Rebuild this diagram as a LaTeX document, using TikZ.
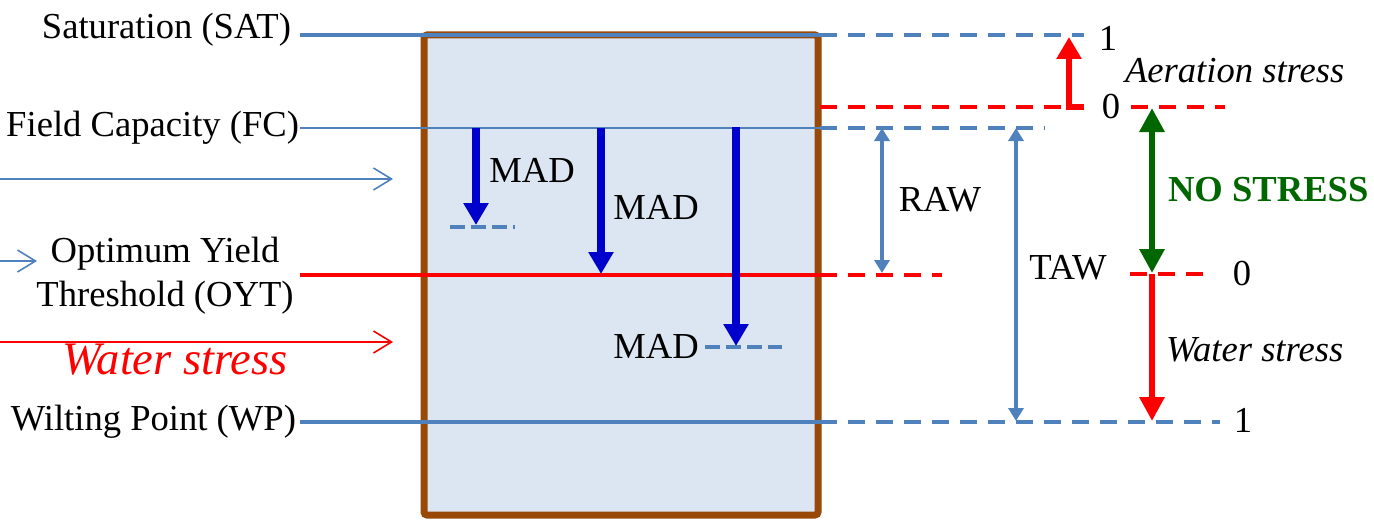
\documentclass[tikz,border=0pt]{standalone}
\usepackage{fontspec}
\setmainfont{Liberation Serif}
\usetikzlibrary{arrows.meta}
\definecolor{lblue}{HTML}{4F81BD}
\definecolor{boxfill}{HTML}{DCE6F2}
\definecolor{soil}{HTML}{984807}
\definecolor{madblue}{HTML}{0000CC}
\definecolor{dgreen}{HTML}{006600}
\definecolor{sred}{HTML}{FF0000}
\begin{document}
\begin{tikzpicture}[x=0.5pt,y=-0.5pt,
  font=\fontsize{18.3}{22}\selectfont,
  txt/.style={inner sep=0pt, outer sep=0pt},
  dsh/.style={dash pattern=on 8.5pt off 5.5pt},
  thickblue/.style={lblue, line width=2pt},
  thinblue/.style={lblue, line width=1pt},
  thickred/.style={sred, line width=2pt},
  madarrow/.style={madblue, line width=3.8pt, -{Triangle[width=12pt,length=11pt]}},
  dimarrow/.style={lblue, line width=2pt, {Triangle[width=7.5pt,length=6.5pt]}-{Triangle[width=7.5pt,length=6.5pt]}},
  openarrow/.style={line width=0.8pt, -{Straight Barb[length=9pt,width=11pt]}},
  bigarrow/.style={line width=3pt, -{Triangle[width=12pt,length=12pt]}}
]
\useasboundingbox (0,0) rectangle (1374,519);

% soil box
\draw[soil, fill=boxfill, line width=3.5pt, rounded corners=1.5pt] (424,35) rectangle (818,515);

% named points
\coordinate (satL) at (300,35);  \coordinate (satB) at (820,35);  \coordinate (satR) at (1084,35);
\coordinate (aerL) at (820,107); \coordinate (aerR) at (1084,107);
\coordinate (fcL) at (300,128);  \coordinate (fcB) at (820,128);  \coordinate (fcR) at (1045,128);
\coordinate (oyL) at (300,275);  \coordinate (oyB) at (820,275);  \coordinate (oyR) at (942,275);
\coordinate (wpL) at (300,422);  \coordinate (wpB) at (820,422);  \coordinate (wpR) at (1220,422);
\coordinate (z1L) at (1131,107); \coordinate (z1R) at (1225,107);
\coordinate (z2L) at (1130,274); \coordinate (z2R) at (1210,274);

% level lines
\draw[thickblue] (satL) -- (satB);
\draw[thickblue, dsh] (satB) -- (satR);
\draw[thickred, dsh] (aerL) -- (aerR);
\draw[thinblue] (fcL) -- (fcB);
\draw[thickblue, dsh] (fcB) -- (fcR);
\draw[thickred] (oyL) -- (oyB);
\draw[thickred, dsh] (oyB) -- (oyR);
\draw[thickblue] (wpL) -- (wpB);
\draw[thickblue, dsh] (wpB) -- (wpR);
\draw[thickred, dsh] (z1L) -- (z1R);
\draw[thickred, dsh] (z2L) -- (z2R);

% MAD arrows
\coordinate (m1a) at (476,128); \coordinate (m1b) at (476,225);
\coordinate (m2a) at (601,128); \coordinate (m2b) at (601,274);
\coordinate (m3a) at (736,127); \coordinate (m3b) at (736,346);
\coordinate (d1L) at (450,227); \coordinate (d1R) at (515,227);
\coordinate (d3L) at (705,347); \coordinate (d3R) at (782,347);
\draw[thickblue, dash pattern=on 7.5pt off 3pt] (d1L) -- (d1R);
\draw[thickblue, dash pattern=on 7.5pt off 3pt] (d3L) -- (d3R);
\draw[madarrow] (m1a) -- (m1b);
\draw[madarrow] (m2a) -- (m2b);
\draw[madarrow] (m3a) -- (m3b);
\node[txt] (mad1) at (532,170) {MAD};
\node[txt] (mad2) at (656,207) {MAD};
\node[txt] (mad3) at (656,346) {MAD};

% RAW / TAW
\coordinate (rawT) at (882,128); \coordinate (rawB) at (882,273);
\coordinate (tawT) at (1016,128); \coordinate (tawB) at (1016,421);
\draw[dimarrow] (rawT) -- (rawB);
\draw[dimarrow] (tawT) -- (tawB);
\node[txt] (raw) at (940,200) {RAW};
\node[txt] (taw) at (1068,268) {TAW};

% stress arrows
\coordinate (aerS) at (1069,107); \coordinate (aerT) at (1069,37);
\draw[sred, line width=3pt, line join=miter, -{Triangle[width=12pt,length=11pt]}] (aerR) -- (aerS) -- (aerT);
\coordinate (nsT) at (1152,108); \coordinate (nsB) at (1152,273);
\draw[dgreen, line width=3pt, {Triangle[width=12pt,length=12pt]}-{Triangle[width=12pt,length=12pt]}] (nsT) -- (nsB);
\coordinate (wsT) at (1152,274); \coordinate (wsB) at (1152,421);
\draw[sred, bigarrow] (wsT) -- (wsB);

% right labels
\node[txt] (one1) at (1108,38) {1};
\node[txt] (zero1) at (1111,107) {0};
\node[txt] (zero2) at (1242,274) {0};
\node[txt] (one2) at (1243,420) {1};
\node[txt, anchor=west] (aer) at (1125,71) {\itshape Aeration stress};
\node[txt, anchor=west, text=dgreen] (nos) at (1168,190) {\bfseries NO STRESS};
\node[txt, anchor=west] (wst) at (1166,350) {\itshape Water stress};

% left labels
\node[txt, anchor=east] (sat) at (291,30) {Saturation (SAT)};
\node[txt, anchor=east] (fc) at (299,128) {Field Capacity (FC)};
\node[txt, align=center] (oyt) at (165,276) {Optimum Yield\\Threshold (OYT)};
\node[txt, anchor=east] (wp) at (296,422) {Wilting Point (WP)};
\node[txt, text=sred, font=\fontsize{23.3}{26}\selectfont\itshape] (wsl) at (175,360) {Water stress};

% left open arrows
\coordinate (a1L) at (0,179); \coordinate (a1R) at (393,179);
\coordinate (a2L) at (0,261); \coordinate (a2R) at (37,261);
\coordinate (a3L) at (0,342); \coordinate (a3R) at (393,342);
\draw[lblue, openarrow] (a1L) -- (a1R);
\draw[lblue, openarrow] (a2L) -- (a2R);
\draw[sred, openarrow] (a3L) -- (a3R);
\end{tikzpicture}
\end{document}
